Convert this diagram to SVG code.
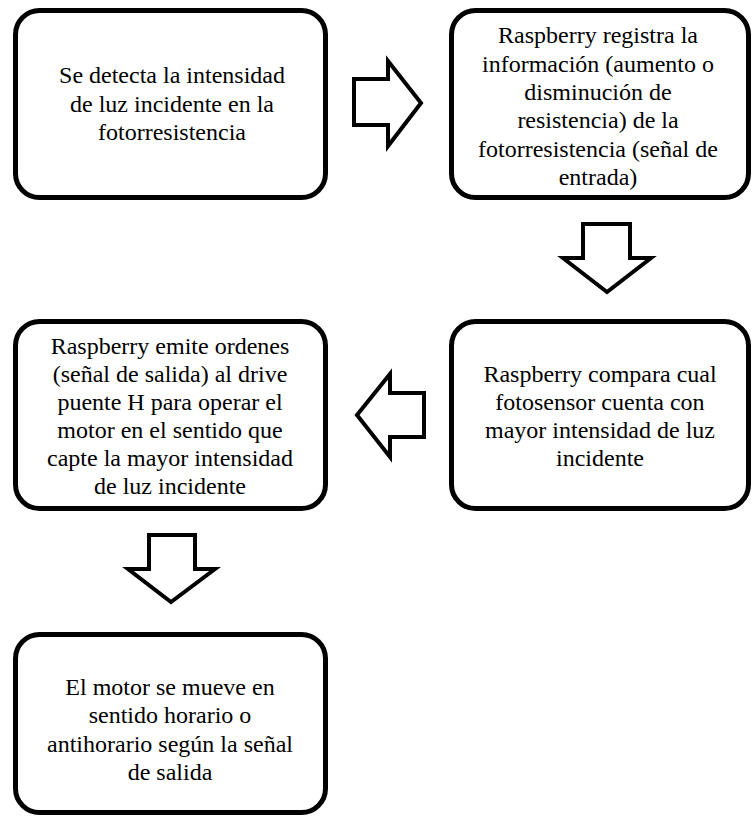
<svg xmlns="http://www.w3.org/2000/svg" width="752" height="816" viewBox="0 0 752 816">
<style>
.box{fill:#fff;stroke:#000;stroke-width:5}
.arr{fill:#fff;stroke:#000;stroke-width:4;stroke-linejoin:miter}
</style>
<rect width="752" height="816" fill="#fff"/>
<g id="connectors">
<polygon class="arr" points="354,79 388,79 388,61 421,103 388,146 388,125 354,125"/>
<polygon class="arr" points="583,224 630,224 630,258 651,258 607,292 563,258 583,258"/>
<polygon class="arr" points="424,393 390,393 390,374 357,415 390,457 390,437 424,437"/>
<polygon class="arr" points="149,535 195,535 195,569 215,569 171,602 128,569 149,569"/>
</g>
<g id="n1">
<rect class="box" x="15.5" y="10.5" width="310" height="187" rx="24"/>
<text x="172" y="83" font-family="Liberation Serif" font-size="24" text-anchor="middle">Se detecta la intensidad</text>
<text x="172" y="112" font-family="Liberation Serif" font-size="24" text-anchor="middle">de luz incidente en la</text>
<text x="172" y="140" font-family="Liberation Serif" font-size="24" text-anchor="middle">fotorresistencia</text>
</g>
<g id="n2">
<rect class="box" x="451.5" y="10.5" width="297" height="187" rx="24"/>
<text x="598" y="43" font-family="Liberation Serif" font-size="24" text-anchor="middle">Raspberry registra la</text>
<text x="598" y="72" font-family="Liberation Serif" font-size="24" text-anchor="middle">información (aumento o</text>
<text x="598" y="100" font-family="Liberation Serif" font-size="24" text-anchor="middle">disminución de</text>
<text x="598" y="128" font-family="Liberation Serif" font-size="24" text-anchor="middle">resistencia) de la</text>
<text x="598" y="157" font-family="Liberation Serif" font-size="24" text-anchor="middle">fotorresistencia (señal de</text>
<text x="598" y="185" font-family="Liberation Serif" font-size="24" text-anchor="middle">entrada)</text>
</g>
<g id="n3">
<rect class="box" x="451.5" y="321.5" width="297" height="187" rx="24"/>
<text x="600" y="382" font-family="Liberation Serif" font-size="24" text-anchor="middle">Raspberry compara cual</text>
<text x="600" y="410" font-family="Liberation Serif" font-size="24" text-anchor="middle">fotosensor cuenta con</text>
<text x="600" y="438" font-family="Liberation Serif" font-size="24" text-anchor="middle">mayor intensidad de luz</text>
<text x="600" y="466" font-family="Liberation Serif" font-size="24" text-anchor="middle">incidente</text>
</g>
<g id="n4">
<rect class="box" x="15.5" y="321.5" width="310" height="187" rx="24"/>
<text x="170" y="354" font-family="Liberation Serif" font-size="24" text-anchor="middle">Raspberry emite ordenes</text>
<text x="170" y="382" font-family="Liberation Serif" font-size="24" text-anchor="middle">(señal de salida) al drive</text>
<text x="170" y="410" font-family="Liberation Serif" font-size="24" text-anchor="middle">puente H para operar el</text>
<text x="170" y="438" font-family="Liberation Serif" font-size="24" text-anchor="middle">motor en el sentido que</text>
<text x="170" y="466" font-family="Liberation Serif" font-size="24" text-anchor="middle">capte la mayor intensidad</text>
<text x="170" y="494" font-family="Liberation Serif" font-size="24" text-anchor="middle">de luz incidente</text>
</g>
<g id="n5">
<rect class="box" x="15.5" y="634.5" width="310" height="178" rx="24"/>
<text x="170" y="695" font-family="Liberation Serif" font-size="24" text-anchor="middle">El motor se mueve en</text>
<text x="170" y="723" font-family="Liberation Serif" font-size="24" text-anchor="middle">sentido horario o</text>
<text x="170" y="752" font-family="Liberation Serif" font-size="24" text-anchor="middle">antihorario según la señal</text>
<text x="170" y="780" font-family="Liberation Serif" font-size="24" text-anchor="middle">de salida</text>
</g>
</svg>
